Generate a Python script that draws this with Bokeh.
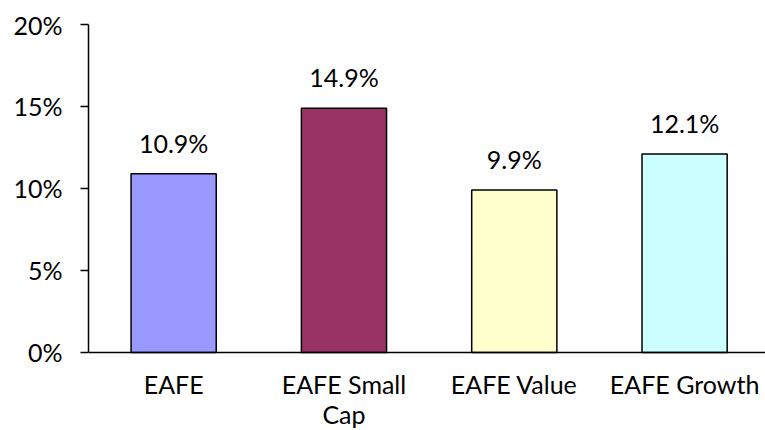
from bokeh.plotting import figure
from bokeh.models import Range1d, ColumnDataSource, FixedTicker
from bokeh.core.properties import value
from bokeh.embed import file_html
from bokeh.resources import INLINE

# Annualized returns by MSCI EAFE style index (%)
categories = ["EAFE", "EAFE Small\nCap", "EAFE Value", "EAFE Growth"]
returns = [10.9, 14.9, 9.9, 12.1]
bar_colors = ["#9999FF", "#993366", "#FFFFCC", "#CCFFFF"]
y_ticks = [0, 5, 10, 15, 20]

FONT = "Lato"
FS = "25px"

positions = [i + 0.5 for i in range(len(categories))]
labels = [f"{v:.1f}%" for v in returns]

src = ColumnDataSource(dict(x=positions, top=returns, color=bar_colors, label=labels))

# The frame runs to the bottom of the page; the category axis sits at y=0
# so the two-line label has room below it.
p = figure(width=765, height=430, output_backend="svg", toolbar_location=None,
           x_range=Range1d(0, 3.975), y_range=Range1d(-4.76, 20),
           min_border_left=88, min_border_right=0, min_border_top=24,
           min_border_bottom=0)
p.outline_line_color = None
p.background_fill_color = "white"
p.border_fill_color = "white"
p.grid.visible = False

p.vbar(x="x", top="top", width=0.5, bottom=0, fill_color="color",
       line_color="black", line_width=1.5, source=src)

p.text(x="x", y="top", text="label", source=src, text_align="center",
       text_baseline="bottom", y_offset=-16, text_font=value(FONT),
       text_font_size=FS, text_color="black")

# y axis
p.yaxis.ticker = FixedTicker(ticks=y_ticks)
p.yaxis.bounds = (0, 20)
p.yaxis.major_label_overrides = {t: f"{t}%" for t in y_ticks}
p.yaxis.minor_tick_line_color = None
p.yaxis.major_tick_out = 8
p.yaxis.major_tick_in = 0
p.yaxis.major_label_standoff = 18
p.yaxis.axis_line_width = 1.5
p.yaxis.major_tick_line_width = 1.5
p.yaxis.axis_line_color = "black"
p.yaxis.major_tick_line_color = "black"

# x axis with category labels
p.xaxis.fixed_location = 0
p.xaxis.ticker = FixedTicker(ticks=positions)
p.xaxis.major_label_overrides = {x: c for x, c in zip(positions, categories)}
p.xaxis.minor_tick_line_color = None
p.xaxis.major_tick_line_color = None
p.xaxis.major_tick_out = 0
p.xaxis.major_tick_in = 0
p.xaxis.major_label_standoff = 17
p.xaxis.major_label_text_line_height = 1.0
p.xaxis.axis_line_width = 1.5
p.xaxis.axis_line_color = "black"

for ax in (p.xaxis, p.yaxis):
    ax.major_label_text_font = FONT
    ax.major_label_text_font_size = FS
    ax.major_label_text_color = "black"

open("out.html", "w").write(file_html(p, INLINE))
